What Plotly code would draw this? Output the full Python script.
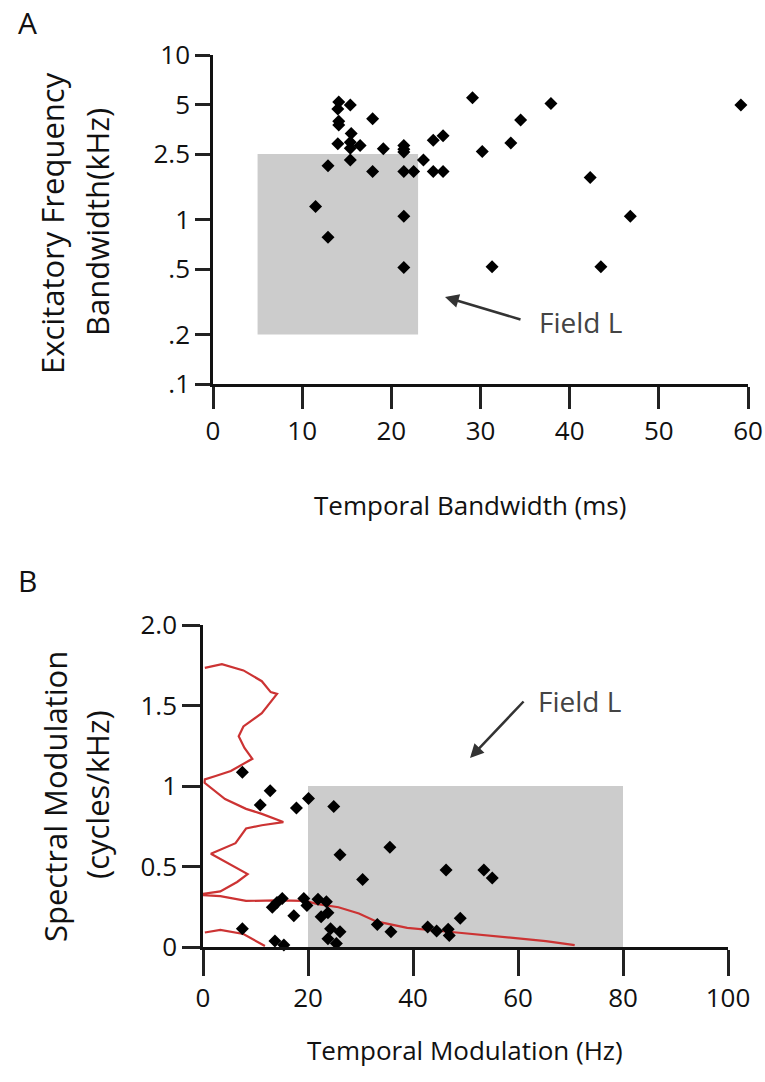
import plotly.graph_objects as go

W, H = 765, 1082
FONT = "Open Sans"

# ---- Panel A: temporal bandwidth (ms) vs excitatory frequency bandwidth (kHz)
tb_ms = [14.1, 15.4, 14.0, 14.1, 14.1, 17.9, 15.5, 14.0, 15.4, 16.5, 15.4, 19.1,
         21.4, 21.4, 21.4, 12.9, 15.4, 17.9, 21.4, 22.5, 23.6, 24.7, 25.8, 24.7,
         25.8, 11.5, 12.9, 21.4, 21.4, 29.1, 37.9, 59.2, 34.5, 33.4, 30.2, 42.3,
         46.8, 31.3, 43.5]
bw_khz = [5.18, 4.96, 4.70, 3.96, 3.75, 4.10, 3.33, 2.89, 2.95, 2.82, 2.71, 2.69,
          2.82, 2.67, 2.57, 2.12, 2.30, 1.96, 1.96, 1.96, 2.30, 3.03, 3.23, 1.96,
          1.96, 1.20, 0.78, 1.045, 0.51, 5.49, 5.07, 4.96, 4.03, 2.92, 2.59, 1.80,
          1.045, 0.517, 0.517]
field_l_a_x = [5, 23]       # ms
field_l_a_y = [0.2, 2.5]    # kHz
a_yticks = [0.1, 0.2, 0.5, 1, 2.5, 5, 10]
a_yticklabels = [".1", ".2", ".5", "1", "2.5", "5", "10"]
a_xticks = [0, 10, 20, 30, 40, 50, 60]

# ---- Panel B: temporal modulation (Hz) vs spectral modulation (cycles/kHz)
tm_hz = [7.5, 12.8, 10.9, 17.8, 20.1, 24.9, 26.1, 30.4, 35.6, 13.2, 14.1, 15.1,
         17.3, 19.2, 19.8, 21.9, 23.5, 22.5, 23.8, 7.5, 13.7, 15.4, 24.3, 26.1,
         23.8, 25.4, 33.2, 35.8, 46.3, 53.5, 55.1, 49.0, 42.8, 44.5, 46.7, 46.9]
sm_cpk = [1.086, 0.97, 0.882, 0.864, 0.923, 0.873, 0.573, 0.419, 0.62, 0.247,
          0.276, 0.302, 0.194, 0.302, 0.257, 0.296, 0.281, 0.188, 0.212, 0.114,
          0.037, 0.012, 0.114, 0.094, 0.051, 0.022, 0.139, 0.094, 0.478, 0.478,
          0.429, 0.178, 0.124, 0.10, 0.11, 0.071]
field_l_b_x = [20, 80]
field_l_b_y = [0, 1]
b_yticks = [0, 0.5, 1, 1.5, 2]
b_yticklabels = ["0", "0.5", "1", "1.5", "2.0"]
b_xticks = [0, 20, 40, 60, 80, 100]

# red density outline drawn over panel B
dist_x = [0.35, 3.6, 7.7, 11.2, 12.9, 14.1, 11.2, 7.7, 6.8, 7.9, 9.4, 5.3, 2.4,
          0.35, 0.3, 4.2, 8.2, 11.2, 15.3, 11.2, 8.2, 6.2, 1.5, 4.2, 8.5, 6.5,
          3.3, -1.1, 3.3, 8.2, 14.1, 19.4, 21.9, 25.8, 29.7, 33.0, 36.3, 38.9,
          48.3, 57.6, 65.3, 70.8]
dist_y = [1.734, 1.757, 1.718, 1.651, 1.583, 1.572, 1.452, 1.37, 1.309, 1.236,
          1.169, 1.093, 1.062, 1.041, 1.02, 0.919, 0.858, 0.827, 0.776, 0.756,
          0.736, 0.645, 0.579, 0.532, 0.453, 0.404, 0.345, 0.325, 0.316, 0.286,
          0.29, 0.286, 0.266, 0.247, 0.208, 0.159, 0.139, 0.119, 0.09, 0.061,
          0.037, 0.012]
dist_low_x = [0.35, 3.3, 7.7, 10.0, 11.8]
dist_low_y = [0.09, 0.106, 0.081, 0.041, 0.006]


def px(x):
    return x / W


def py(y):
    return 1 - y / H


GRAY = "#cccccc"
RED = "#cc3333"

fig = go.Figure()

# Field L region, panel A
fig.add_trace(go.Scatter(
    x=[field_l_a_x[0], field_l_a_x[1], field_l_a_x[1], field_l_a_x[0], field_l_a_x[0]],
    y=[field_l_a_y[0], field_l_a_y[0], field_l_a_y[1], field_l_a_y[1], field_l_a_y[0]],
    fill="toself", fillcolor=GRAY, line=dict(width=0), mode="lines",
    hoverinfo="skip", xaxis="x", yaxis="y"))
fig.add_trace(go.Scatter(
    x=tb_ms, y=bw_khz, mode="markers", cliponaxis=False,
    marker=dict(symbol="diamond", size=10, color="black"),
    xaxis="x", yaxis="y"))

# Field L region, panel B
fig.add_trace(go.Scatter(
    x=[field_l_b_x[0], field_l_b_x[1], field_l_b_x[1], field_l_b_x[0], field_l_b_x[0]],
    y=[field_l_b_y[0], field_l_b_y[0], field_l_b_y[1], field_l_b_y[1], field_l_b_y[0]],
    fill="toself", fillcolor=GRAY, line=dict(width=0), mode="lines",
    hoverinfo="skip", xaxis="x2", yaxis="y2"))
fig.add_trace(go.Scatter(
    x=dist_x, y=dist_y, mode="lines", line=dict(color=RED, width=2.2),
    xaxis="x2", yaxis="y2"))
fig.add_trace(go.Scatter(
    x=dist_low_x, y=dist_low_y, mode="lines", line=dict(color=RED, width=2.2),
    xaxis="x2", yaxis="y2"))
fig.add_trace(go.Scatter(
    x=tm_hz, y=sm_cpk, mode="markers", cliponaxis=False,
    marker=dict(symbol="diamond", size=10, color="black"),
    xaxis="x2", yaxis="y2"))

axis_common = dict(showline=True, linecolor="#111", linewidth=2.5, ticks="outside",
                   tickcolor="#222", tickwidth=2.5, showgrid=False, zeroline=False,
                   automargin=False,
                   tickfont=dict(family=FONT, size=26, color="#111"))

fig.update_layout(
    width=W, height=H, autosize=False,
    margin=dict(l=0, r=0, t=0, b=0, pad=0, autoexpand=False),
    paper_bgcolor="white", plot_bgcolor="white", showlegend=False,
    xaxis=dict(domain=[px(213), px(748)], range=[0, 60], anchor="y",
               tickvals=a_xticks, ticklen=22, **axis_common),
    yaxis=dict(domain=[py(384), py(55)], type="log", range=[-1, 1], anchor="x",
               tickvals=a_yticks, ticktext=a_yticklabels, ticklen=15, **axis_common),
    xaxis2=dict(domain=[px(203), px(728)], range=[0, 100], anchor="y2",
                tickvals=b_xticks, ticklen=26, **axis_common),
    yaxis2=dict(domain=[py(947), py(625)], range=[0, 2], anchor="x2",
                tickvals=b_yticks, ticktext=b_yticklabels, ticklen=18, **axis_common),
)

title_font = dict(family=FONT, size=31, color="#111")
xt_font = dict(family=FONT, size=26, color="#111")
label_font = dict(family=FONT, size=30, color="#111")
note_font = dict(family=FONT, size=28, color="#444")

annotations = [
    dict(text="A", x=px(27), y=py(22), font=label_font),
    dict(text="B", x=px(27), y=py(580), font=label_font),
    dict(text="Excitatory Frequency", x=px(52), y=py(223), textangle=-90, font=title_font),
    dict(text="Bandwidth(kHz)", x=px(97), y=py(222), textangle=-90, font=title_font),
    dict(text="Temporal Bandwidth (ms)", x=px(470), y=py(505), font=xt_font),
    dict(text="Spectral Modulation", x=px(55), y=py(797), textangle=-90, font=title_font),
    dict(text="(cycles/kHz)", x=px(97), y=py(795), textangle=-90, font=title_font),
    dict(text="Temporal Modulation (Hz)", x=px(465), y=py(1050), font=xt_font),
    dict(text="Field L", x=px(537), y=py(322), xanchor="left", font=note_font),
    dict(text="Field L", x=px(536), y=py(701), xanchor="left", font=note_font),
]
for a in annotations:
    a.setdefault("xanchor", "center")
    a.update(xref="paper", yref="paper", yanchor="middle", showarrow=False)

# arrows pointing at the Field L regions
arrows = [
    dict(x=px(445), y=py(297), ax=77, ay=23),
    dict(x=px(470), y=py(758), ax=55, ay=-58),
]
for a in arrows:
    a.update(xref="paper", yref="paper", text="", showarrow=True, arrowhead=2,
             arrowsize=1.1, arrowwidth=2.5, arrowcolor="#333", standoff=0)
fig.update_layout(annotations=annotations + arrows)

fig.write_html("out.html")
